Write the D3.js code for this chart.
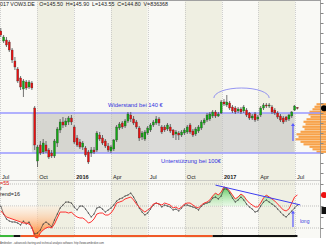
<!DOCTYPE html>
<html><head><meta charset="utf-8">
<script src="https://cdn.jsdelivr.net/npm/d3@7"></script>
<style>
html,body{margin:0;padding:0;background:#fff;overflow:hidden}
svg{display:block;font-family:"Liberation Sans",Arial,sans-serif}
</style></head><body>
<svg id="c" width="326" height="245"></svg>
<script>
// ---------------- DATA ----------------
const headerText = "017 VOW3.DE   O=145.50  H=145.90  L=143.55  C=144.80  V=836368";
const opens = [222,212,213,211,203,192,184,175,164,171,
  166,170,145,92,108,101,108,103,100,97,
  110,123,131,128,131,135,126,115,111,106,
  105,101,100,103,103,118,115,112,107,102,
  104,113,125,130,127,132,138,134,131,125,
  116,114,120,123,128,130,134,126,126,124,
  126,123,119,120,118,120,121,128,122,119,
  122,125,130,133,134,137,141,137,140,151,
  148,150,146,145,142,144,142,143,140,135,
  139,134,138,145,148,147,146,143,140,137,
  135,136,134,137,143,145.5];
const highs = [225,218,216,213,205,196,186,177,174,173,
  173,172,147,108,112,114,112,105,103,114,
  126,134,136,135,137,138,128,118,114,112,
  107,103,106,106,122,121,118,114,110,108,
  114,128,131,132,134,141,141,137,133,127,
  122,123,127,130,133,137,136,128,128,130,
  129,124,123,122,123,125,128,130,124,126,
  128,133,135,140,141,143,143,141,153,154,
  158,152,148,147,146,146,148,145,141,139,
  141,138,147,150,150,150,148,145,142,139,
  137,137,139,142,148,145.9];
const lows = [216,210,206,201,190,183,170,163,156,163,
  164,163,103,86,98,99,100,94,95,95,
  106,120,125,126,128,128,109,106,104,103,
  96,89,96,99,101,112,108,105,101,100,
  102,111,123,124,125,130,131,128,124,112,
  113,112,118,121,126,128,127,119,121,122,
  120,115,113,113,116,118,119,119,116,117,
  120,123,128,131,132,135,135,136,139,147,
  146,143,140,139,140,139,140,136,133,133,
  131,132,136,143,145,145,139,138,134,131,
  129,131,132,135,142,143.55];
const closes = [218,216,208,203,193,186,172,166,172,165,
  171,165,108,106,100,110,102,96,97,112,
  124,131,128,132,135,131,111,108,106,110,
  98,91,103,101,120,114,110,107,103,106,
  113,126,129,126,132,139,134,130,126,115,
  120,121,125,128,131,134,130,121,123,128,
  122,118,121,118,121,123,126,121,118,124,
  126,131,133,138,139,141,137,139,151,149,
  151,145,142,141,144,141,146,138,135,137,
  133,136,145,148,147,148,141,140,136,133,
  131,133,138,141,147,144.8];

const indRed = [45.5,42.7,40.0,39.1,38.2,37.3,36.4,35.5,34.5,34.5,
  33.6,30.9,21.8,20.9,25.5,28.2,30.0,30.9,30.0,33.6,
  39.1,44.5,44.5,44.5,43.6,44.5,41.8,40.0,39.1,39.1,
  37.3,34.5,35.5,38.2,42.7,43.6,43.6,41.8,41.8,43.6,
  47.3,52.7,53.6,54.5,56.4,57.3,58.2,55.5,51.8,49.1,
  46.4,44.5,46.4,48.2,51.8,52.7,51.8,50.9,52.7,51.8,
  50.9,48.2,49.1,47.3,49.1,51.8,52.7,52.7,50.9,49.1,
  48.2,50.9,52.7,53.6,55.5,59.1,61.8,60.0,62.7,67.3,
  66.4,63.6,60.0,56.4,58.2,60.9,59.1,55.5,52.7,50.9,
  49.1,49.1,52.7,57.3,60.0,58.2,56.4,54.5,51.8,49.1,
  46.4,45.5,47.3,52.7,58.2,60.0];
const indBlack = [50.0,42.7,38.2,36.4,35.5,35.5,34.5,32.7,36.4,33.6,
  35.5,30.0,24.5,25.5,28.2,33.6,35.5,33.6,30.9,37.3,
  42.7,48.2,50.9,53.6,53.6,52.7,49.1,46.4,50.0,50.0,
  47.3,43.6,40.0,42.7,48.2,49.1,47.3,44.5,46.4,48.2,
  50.9,54.5,56.4,57.3,59.1,60.0,61.8,58.2,53.6,48.2,
  44.5,41.8,43.6,47.3,50.9,52.7,51.8,49.1,50.9,50.0,
  49.1,46.4,47.3,45.5,48.2,50.9,50.9,50.0,49.1,48.2,
  46.4,50.0,51.8,52.7,53.6,57.3,58.2,56.4,59.1,65.5,
  65.5,61.8,57.3,53.6,55.5,58.2,55.5,51.8,49.1,47.3,
  44.5,45.5,50.0,53.6,55.5,53.6,51.8,50.0,47.3,44.5,
  41.8,40.0,42.7,45.5,48.2,50.9];

const quarterStarts = ["2015-07-01","2015-10-01","2016-01-01","2016-04-01","2016-07-01","2016-10-01","2017-01-01","2017-04-01","2017-07-01"];
const quarterLabels = ["Jul","Oct","2016","Apr","Jul","Oct","2017","Apr","Jul"];

const profileLevels = [100,102.5,105,107.5,110,112.5,115,117.5,120,122.5,125,127.5,130,132.5,135,137.5,140,142.5,145,147.5];
const profileVolumes = [40,80,110,170,200,250,220,240,200,160,180,150,170,140,100,120,110,80,60,40];

const resistance = 140, support = 100;
const resistanceLabel = "Widerstand bei 140 €";
const supportLabel = "Unterstützung bei 100€";
const boxRange = {from:"2015-09-18", to:"2017-06-30", lo:100, hi:140};
const arcSpec = {from:"2016-12-12", to:"2017-04-28", base:155, top:165};
const priceArrow = {date:"2017-06-26", from:112, to:130};
const indArrow = {date:"2017-06-26", from:31, to:46};
const indTrend = [["2016-12-16",69],["2017-07-14",51]];
const indLevels = [30,50,70];
const ribbon = [[0,4.5,"#3cb83c"],[4.5,7,"#111"],[7,75,"#f05a28"],[75,105,"#111"]];
const indLabels = [["=55","#e02020"],["r","#222"],["rend=16","#222"]];
const footer = "Amibroker - advanced charting and technical analysis software. http://www.amibroker.com";

// ---------------- CHART ----------------
const svg = d3.select("#c");
const AX = 320.5;
const parse = d3.timeParse("%Y-%m-%d");
const dates = d3.timeFriday.range(new Date(2015,6,3), new Date(2017,6,8));
const x = d3.scaleTime().domain([new Date(2015,6,1), new Date(2017,6,1)]).range([0,295]);
const yP = d3.scaleLinear().domain([100,140]).range([153,113]);
const yI = d3.scaleLinear().domain([30,70]).range([228,184]);
const main = {top:0, bottom:180}, ind = {top:180, bottom:238};

const defs = svg.append("defs");
const og = defs.append("linearGradient").attr("id","og").attr("gradientUnits","userSpaceOnUse")
  .attr("x1",0).attr("x2",0).attr("y1",yI(50)).attr("y2",238);
og.append("stop").attr("offset",0).attr("stop-color","#fff0e0").attr("stop-opacity",0.4);
og.append("stop").attr("offset",1).attr("stop-color","#ff7a1a").attr("stop-opacity",1);
const gg = defs.append("linearGradient").attr("id","gg").attr("gradientUnits","userSpaceOnUse")
  .attr("x1",0).attr("x2",0).attr("y1",186).attr("y2",yI(50));
gg.append("stop").attr("offset",0).attr("stop-color","#40c040").attr("stop-opacity",0.9);
gg.append("stop").attr("offset",1).attr("stop-color","#d8f8d8").attr("stop-opacity",0.5);

// backgrounds (both panels)
[main, ind].forEach(p=>{
  quarterStarts.forEach((q,k)=>{
    const x0 = x(parse(q)), x1 = k+1<quarterStarts.length ? x(parse(quarterStarts[k+1])) : AX;
    svg.append("rect").attr("x",x0).attr("y",p.top).attr("width",x1-x0).attr("height",p.bottom-p.top)
      .attr("fill", k%2 ? "#efefe2" : "#f9f9f5");
  });
  quarterStarts.forEach(q=>{
    const xx = Math.round(x(parse(q)))+0.5;
    svg.append("line").attr("x1",xx).attr("x2",xx).attr("y1",p.top).attr("y2",p.bottom)
      .attr("stroke","#c4c4c4").attr("stroke-width",0.8).attr("stroke-dasharray","1,1");
  });
});

// top border
svg.append("line").attr("x1",0).attr("x2",AX).attr("y1",0.5).attr("y2",0.5).attr("stroke","#a0a0a0");

// gray box
svg.append("rect").attr("x",x(parse(boxRange.from))).attr("y",yP(boxRange.hi))
  .attr("width",x(parse(boxRange.to))-x(parse(boxRange.from))).attr("height",yP(boxRange.lo)-yP(boxRange.hi))
  .attr("fill","#bdbdbd").attr("opacity",0.5);

// volume profile
const vx = d3.scaleLinear().domain([0,250]).range([0,25]);
svg.selectAll(".vp").data(profileLevels).join("rect")
  .attr("x",(d,i)=>AX - vx(profileVolumes[i])).attr("y",d=>yP(d+2.5)+0.2)
  .attr("width",(d,i)=>vx(profileVolumes[i])+6).attr("height",d=>yP(d)-yP(d+2.5)-0.3)
  .attr("fill","#f8a24a");

// support/resistance lines
[resistance, support].forEach(v=>{
  svg.append("line").attr("x1",0).attr("x2",AX).attr("y1",yP(v)).attr("y2",yP(v))
    .attr("stroke","#9898ff").attr("stroke-width",1.3);
});
svg.append("text").attr("x",108).attr("y",yP(resistance)-6.5).attr("font-size",5.8).attr("fill","#3434e0").text(resistanceLabel);
svg.append("text").attr("x",161).attr("y",yP(support)+9.5).attr("font-size",5.8).attr("fill","#3434e0").text(supportLabel);

// arc
{
  const x0=x(parse(arcSpec.from)), x1=x(parse(arcSpec.to));
  const cx=(x0+x1)/2, rx=(x1-x0)/2, cy=yP(arcSpec.base), ry=yP(arcSpec.base)-yP(arcSpec.top);
  svg.append("path").attr("d",`M${x0},${cy} A${rx},${ry} 0 0 1 ${x1},${cy}`)
    .attr("fill","none").attr("stroke","#8a8af0").attr("stroke-width",0.9);
}

// candles
const cg = svg.append("g");
dates.forEach((d,i)=>{
  const cx = x(d);
  cg.append("line").attr("x1",cx).attr("x2",cx).attr("y1",yP(highs[i])).attr("y2",yP(lows[i]))
    .attr("stroke","#3a3a3a").attr("stroke-width",0.7);
  const up = closes[i] >= opens[i];
  const yt = yP(Math.max(opens[i],closes[i])), yb = yP(Math.min(opens[i],closes[i]));
  cg.append("rect").attr("x",cx-1).attr("y",yt).attr("width",2).attr("height",Math.max(0.8,yb-yt))
    .attr("fill", up ? "#12a812" : "#e81010").attr("stroke","#333").attr("stroke-width",0.3);
});

// arrows
function arrow(date, y0, y1, sc){
  const ax = x(parse(date));
  svg.append("line").attr("x1",ax).attr("x2",ax).attr("y1",sc(y0)).attr("y2",sc(y1)+2)
    .attr("stroke","#5a5aff").attr("stroke-width",1.2);
  svg.append("path").attr("d",`M${ax-2},${sc(y1)+3} L${ax},${sc(y1)} L${ax+2},${sc(y1)+3} Z`).attr("fill","#5a5aff");
}
arrow(priceArrow.date, priceArrow.from, priceArrow.to, yP);

// right axis main
svg.append("line").attr("x1",AX).attr("x2",AX).attr("y1",0).attr("y2",main.bottom).attr("stroke","#888").attr("stroke-width",0.8);
svg.append("g").attr("transform",`translate(${AX},0)`)
  .call(d3.axisRight(yP).tickValues(d3.range(80,260,10)).tickSize(3).tickFormat(""))
  .call(g=>g.select(".domain").remove())
  .call(g=>g.selectAll("line").attr("stroke","#888"));
svg.append("circle").attr("cx",324).attr("cy",yP(closes[closes.length-1])).attr("r",3).attr("fill","#000");

// date labels
quarterLabels.forEach((t,k)=>{
  svg.append("text").attr("x",x(parse(quarterStarts[k]))+2).attr("y",179.3).attr("font-size",5.6)
    .attr("font-weight", /^\d{4}$/.test(t) ? "bold" : "normal").attr("fill","#222").text(t);
});

// header
svg.append("text").attr("x",0).attr("y",6.3).attr("font-size",5.5).attr("fill","#222")
  .attr("xml:space","preserve").attr("textLength",168).attr("lengthAdjust","spacingAndGlyphs").text(headerText);

// ---------- indicator panel ----------
svg.append("line").attr("x1",0).attr("x2",AX).attr("y1",ind.top+0.5).attr("y2",ind.top+0.5).attr("stroke","#b0b0b0").attr("stroke-width",0.6);
indLevels.forEach(v=>{
  svg.append("line").attr("x1",0).attr("x2",AX).attr("y1",yI(v)).attr("y2",yI(v))
    .attr("stroke","#a8a8a8").attr("stroke-width",0.7).attr("stroke-dasharray","1,1");
});
const idx = d3.range(dates.length);
function fillRange(a,b,grad){
  const area = d3.area().x(i=>x(dates[i])).y0(yI(50)).y1(i=>yI(indRed[i]));
  svg.append("path").attr("d",area(idx.slice(a,b+1))).attr("fill",`url(#${grad})`);
}
fillRange(0,21,"og");
fillRange(72,87,"gg");
fillRange(92,97,"gg");

const line = arr => d3.line().x(i=>x(dates[i])).y(i=>yI(arr[i]))(idx);
svg.append("path").attr("d",line(indBlack)).attr("fill","none").attr("stroke","#444").attr("stroke-width",0.7);
svg.selectAll(".bd").data(idx).join("circle").attr("cx",i=>x(dates[i])).attr("cy",i=>yI(indBlack[i])).attr("r",0.55).attr("fill","#222");
svg.append("path").attr("d",line(indRed)).attr("fill","none").attr("stroke","#ff3030").attr("stroke-width",1);

// trend line
svg.append("line").attr("x1",x(parse(indTrend[0][0]))).attr("y1",yI(indTrend[0][1]))
  .attr("x2",x(parse(indTrend[1][0]))).attr("y2",yI(indTrend[1][1])).attr("stroke","#3c3cf0").attr("stroke-width",1);

arrow(indArrow.date, indArrow.from, indArrow.to, yI);
svg.append("text").attr("x",x(parse(indArrow.date))+7).attr("y",yI(indArrow.from)-3.5).attr("font-size",5).attr("fill","#4040e0").text("long");

// ribbon
ribbon.forEach(([a,b,c])=>{
  const xa = a<=0 ? 0 : (x(dates[Math.floor(a)])+x(dates[Math.ceil(a)]))/2;
  const xb = (x(dates[Math.floor(b)])+x(dates[Math.ceil(b)]))/2;
  svg.append("rect").attr("x",xa).attr("y",235).attr("width",xb-xa).attr("height",2).attr("fill",c);
});

// right axis indicator
svg.append("line").attr("x1",AX).attr("x2",AX).attr("y1",ind.top).attr("y2",ind.bottom).attr("stroke","#888").attr("stroke-width",0.8);
svg.append("g").attr("transform",`translate(${AX},0)`)
  .call(d3.axisRight(yI).tickValues(d3.range(30,80,10)).tickSize(3).tickFormat(""))
  .call(g=>g.select(".domain").remove())
  .call(g=>g.selectAll("line").attr("stroke","#888"));
svg.append("circle").attr("cx",324).attr("cy",yI(indRed[indRed.length-1])).attr("r",3).attr("fill","#ee1010");
svg.append("rect").attr("x",321.5).attr("y",yI(indBlack[indBlack.length-1])+2).attr("width",5).attr("height",7).attr("fill","#111");

// indicator labels
indLabels.forEach(([t,c],k)=>{
  svg.append("text").attr("x",0).attr("y",184.8 + k*5.2 + (k===2?1:0)).attr("font-size",5.4).attr("fill",c).text(t);
});

// footer
svg.append("text").attr("x",0).attr("y",243.5).attr("font-size",3.2).attr("fill","#444")
  .attr("textLength",104).attr("lengthAdjust","spacingAndGlyphs").text(footer);
</script>
</body></html>
